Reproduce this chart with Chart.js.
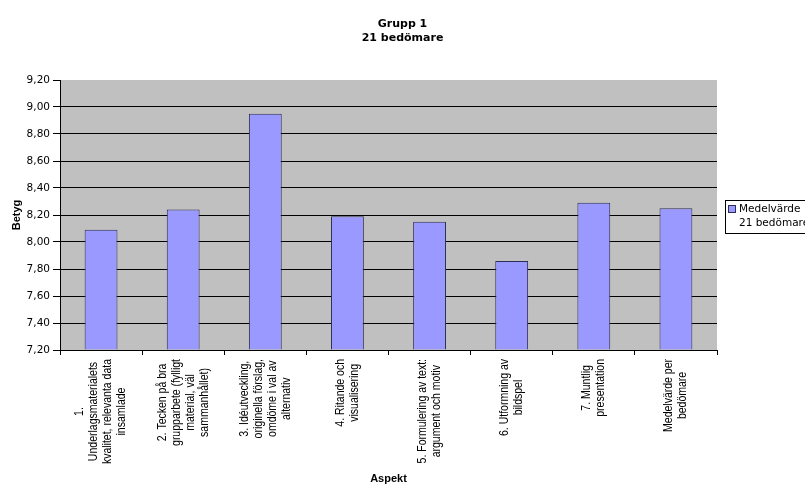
<!DOCTYPE html>
<html>
<head>
<meta charset="utf-8">
<script src="https://cdn.jsdelivr.net/npm/chart.js@4.4.0/dist/chart.umd.min.js"></script>
<style>
  html, body { margin: 0; padding: 0; background: #fff; }
</style>
</head>
<body>
<canvas id="chart" width="805" height="487"></canvas>
<script>
// data
const categories = [
    ['1.', 'Underlagsmaterialets', 'kvalitet, relevanta data', 'insamlade'],
    ['2. Tecken på bra', 'grupparbete (fylligt', 'material, väl', 'sammanhållet)'],
    ['3. Idéutveckling,', 'originella förslag,', 'omdöme i val av', 'alternativ'],
    ['4. Ritande och', 'visualisering'],
    ['5. Formulering av text:', 'argument och motiv'],
    ['6. Utformning av', 'bildspel'],
    ['7. Muntlig', 'presentation'],
    ['Medelvärde per', 'bedömare']
];
const values = [8.09, 8.24, 8.95, 8.19, 8.15, 7.86, 8.29, 8.25];
const yTicks = [7.2, 7.4, 7.6, 7.8, 8.0, 8.2, 8.4, 8.6, 8.8, 9.0, 9.2];
const seriesName = ['Medelvärde', '21 bedömare'];
const titleLines = ['Grupp 1', '21 bedömare'];

const barFill = '#9999ff';
const barLine = '#2e2e55';

// grey plot area like the old excel charts
const plotBackground = {
    id: 'plotBackground',
    beforeDraw(chart) {
        const a = chart.chartArea;
        const ctx = chart.ctx;
        ctx.save();
        ctx.fillStyle = '#c0c0c0';
        ctx.fillRect(a.left, a.top, a.right - a.left, a.bottom - a.top);
        ctx.restore();
    }
};

// rotated, centred multi-line category labels
const categoryLabels = {
    id: 'categoryLabels',
    afterDraw(chart) {
        const ctx = chart.ctx;
        const x = chart.scales.x;
        const lineGap = 14;
        const topY = 359;
        ctx.save();
        ctx.font = '10.5px "Liberation Sans", Arial, sans-serif';
        ctx.fillStyle = '#000';
        ctx.textAlign = 'center';
        ctx.textBaseline = 'middle';
        categories.forEach((lines, i) => {
            const cx = x.getPixelForValue(i);
            const longest = Math.max(...lines.map(l => ctx.measureText(l).width));
            const cy = topY + longest / 2;
            lines.forEach((line, k) => {
                const lx = cx + (k - (lines.length - 1) / 2) * lineGap;
                ctx.save();
                ctx.translate(lx, cy);
                ctx.rotate(-Math.PI / 2);
                ctx.scale(1, 1.15); // the original picture is a bit stretched sideways
                ctx.fillText(line, 0, 0);
                ctx.restore();
            });
        });
        ctx.restore();
    }
};

// legend box on the right, cut by the edge of the picture
const sideLegend = {
    id: 'sideLegend',
    afterDraw(chart) {
        const ctx = chart.ctx;
        const left = 725.5, top = 200.5;
        ctx.save();
        ctx.fillStyle = '#fff';
        ctx.fillRect(left, top, 100, 33);
        ctx.strokeStyle = '#000';
        ctx.lineWidth = 1;
        ctx.strokeRect(left, top, 100, 33);
        ctx.fillStyle = barFill;
        ctx.fillRect(729, 206, 6, 6);
        ctx.strokeStyle = barLine;
        ctx.strokeRect(728.5, 205.5, 7, 7);
        ctx.fillStyle = '#000';
        ctx.font = '10.5px "DejaVu Sans", sans-serif';
        ctx.textBaseline = 'middle';
        ctx.textAlign = 'left';
        ctx.fillText(seriesName[0], 739, 209.5);
        ctx.fillText(seriesName[1], 739, 223);
        ctx.restore();
    }
};

new Chart(document.getElementById('chart'), {
    type: 'bar',
    data: {
        labels: categories,
        datasets: [{
            label: seriesName.join(' '),
            data: values,
            backgroundColor: barFill,
            borderColor: barLine,
            borderWidth: 1,
            base: yTicks[0],
            barPercentage: 0.4,
            categoryPercentage: 1.0
        }]
    },
    options: {
        responsive: false,
        animation: false,
        layout: { padding: 0 },
        plugins: {
            legend: { display: false },
            tooltip: { enabled: false },
            title: {
                display: true,
                text: titleLines,
                color: '#000',
                font: { family: '"DejaVu Sans", sans-serif', size: 11, weight: 'bold', lineHeight: 1.3 },
                padding: { top: 17, bottom: 34.4 }
            }
        },
        scales: {
            x: {
                grid: { offset: true, drawOnChartArea: false, tickLength: 5, color: '#000' },
                border: { color: '#000' },
                ticks: { display: false },
                title: {
                    display: true,
                    text: 'Aspekt',
                    color: '#000',
                    font: { family: '"Liberation Sans", Arial, sans-serif', size: 11, weight: 'bold' },
                    padding: { top: 0, bottom: 1.4 }
                },
                afterFit(scale) { scale.height = 137; }
            },
            y: {
                min: yTicks[0],
                max: yTicks[yTicks.length - 1],
                afterBuildTicks(scale) { scale.ticks = yTicks.map(v => ({ value: v })); },
                grid: {
                    color: c => (c.index === yTicks.length - 1 ? 'rgba(0,0,0,0)' : '#000'),
                    tickColor: '#000',
                    tickLength: 7
                },
                border: { color: '#000' },
                ticks: {
                    color: '#000',
                    padding: 3,
                    font: { family: '"DejaVu Sans", sans-serif', size: 10.5 },
                    callback: v => v.toFixed(2).replace('.', ',')
                },
                title: {
                    display: true,
                    text: 'Betyg',
                    color: '#000',
                    font: { family: '"Liberation Sans", Arial, sans-serif', size: 11, weight: 'bold' },
                    padding: { top: 10.4, bottom: 0 }
                },
                afterFit(scale) { scale.width = 60; }
            },
            // empty axis on the right only keeps room for the legend box
            room: {
                type: 'linear',
                position: 'right',
                grid: { display: false },
                border: { display: false },
                ticks: { display: false },
                afterFit(scale) { scale.width = 88; }
            }
        }
    },
    plugins: [plotBackground, categoryLabels, sideLegend]
});
</script>
</body>
</html>
